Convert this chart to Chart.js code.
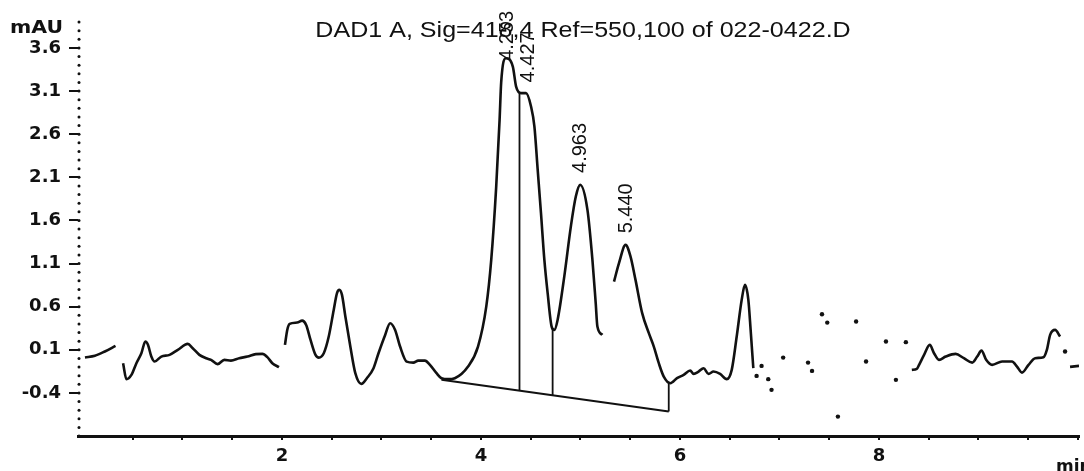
<!DOCTYPE html>
<html>
<head>
<meta charset="utf-8">
<script src="https://cdn.jsdelivr.net/npm/chart.js@4.4.1/dist/chart.umd.min.js"></script>
<style>
  html, body { margin: 0; padding: 0; background: #fff; }
  #wrap { width: 1084px; height: 471px; }
</style>
</head>
<body>
<div id="wrap"><canvas id="chrom" width="1084" height="471"></canvas></div>
<script>
// time (min) and signal (mAU), null = gap in the print
const traceTime = [
  0.02, 0.12, 0.22, 0.327, 0.36,
  0.403, 0.437, 0.487, 0.537, 0.587, 0.627, 0.653, 0.687, 0.72, 0.787, 0.87, 0.953,
  1.053, 1.103, 1.17, 1.237, 1.287, 1.353, 1.42, 1.487, 1.57, 1.653, 1.737, 1.803,
  1.853, 1.903, 1.97, 2.0,
  2.03, 2.053, 2.077, 2.153, 2.203, 2.243, 2.287, 2.337, 2.37, 2.42, 2.47, 2.52,
  2.553, 2.577, 2.603, 2.637, 2.687, 2.737, 2.797, 2.853, 2.92, 2.97, 3.037, 3.087,
  3.137, 3.187, 3.253, 3.32, 3.37, 3.437, 3.487, 3.553, 3.603, 3.67, 3.737, 3.87,
  3.97, 4.053, 4.103, 4.153, 4.187, 4.203, 4.25, 4.32, 4.353, 4.403, 4.453, 4.503,
  4.537, 4.57, 4.603, 4.637, 4.67, 4.71, 4.737, 4.77, 4.837, 4.903, 4.953, 4.997,
  5.07, 5.12, 5.153, 5.17, 5.22, 5.28,
  5.337, 5.387, 5.453, 5.503, 5.553, 5.62, 5.687, 5.737, 5.787, 5.837, 5.903, 5.97,
  6.037, 6.103, 6.137, 6.187, 6.237, 6.287, 6.337, 6.403, 6.47, 6.52, 6.57, 6.62,
  6.653, 6.687, 6.71, 6.737, 7.5,
  8.33, 8.38, 8.403, 8.453, 8.51, 8.553, 8.603, 8.67, 8.77, 8.853, 8.937, 8.987,
  9.03, 9.077, 9.137, 9.237, 9.337, 9.387, 9.437, 9.503, 9.57, 9.653, 9.687, 9.72,
  9.77, 9.82, 9.9,
  9.92, 10.01
];
const traceSignal = [
  0.01, 0.03, 0.08, 0.145, null,
  -0.056, -0.241, -0.191, -0.056, 0.06, 0.195, 0.157, 0.021, -0.037, 0.021, 0.041, 0.099,
  0.168, 0.118, 0.041, 0.002, -0.017, -0.067, -0.017, -0.026, 0.002, 0.021, 0.049, 0.052,
  0.014, -0.056, -0.102, null,
  0.157, 0.33, 0.40, 0.415, 0.438, 0.388, 0.214, 0.041, 0.009, 0.06, 0.253, 0.562,
  0.756, 0.794, 0.736, 0.485, 0.137, -0.172, -0.296, -0.23, -0.114, 0.06, 0.272, 0.408,
  0.33, 0.137, -0.037, -0.049, -0.026, -0.026, -0.075, -0.172, -0.23, -0.241, -0.23, -0.095,
  0.137, 0.60, 1.142, 1.992, 2.765, 3.20, 3.48, 3.383, 3.151, 3.075, 3.075, 2.92,
  2.688, 2.186, 1.683, 1.142, 0.756, 0.369, 0.33, 0.446, 0.948, 1.528, 1.876, 2.012,
  1.722, 1.142, 0.64, 0.369, 0.272, null,
  0.89, 1.104, 1.316, 1.18, 0.91, 0.524, 0.292, 0.137, -0.056, -0.211, -0.288, -0.23,
  -0.191, -0.141, -0.18, -0.153, -0.114, -0.18, -0.153, -0.18, -0.241, -0.133, 0.253, 0.678,
  0.852, 0.678, 0.33, -0.114, null,
  -0.133, -0.122, -0.075, 0.041, 0.157, 0.06, -0.017, 0.021, 0.052, 0.002, -0.049, 0.021,
  0.09, -0.017, -0.075, -0.037, -0.037, -0.095, -0.165, -0.075, 0.002, 0.014, 0.099, 0.273,
  0.33, 0.253, null,
  -0.099, -0.087
];

// isolated specks where the plotter dropped out
const speckTime = [6.77, 6.82, 6.887, 6.92, 7.037, 7.287, 7.327, 7.427, 7.48, 7.587, 7.77, 7.87, 8.07, 8.17, 8.27, 9.87];
const speckSignal = [-0.203, -0.087, -0.241, -0.365, 0.009, -0.049, -0.145, 0.512, 0.415, -0.675, 0.427, -0.037, 0.195, -0.249, 0.188, 0.079];

// integration baseline and drop lines
const baseTime = [3.603, 5.887];
const baseSignal = [-0.249, -0.617];
const dropTime = [4.387, 4.387, 4.387, 4.72, 4.72, 4.72, 5.887, 5.887];
const dropSignal = [3.078, -0.375, null, 0.35, -0.429, null, -0.27, -0.617];

// peak annotations
const peakLabels = ["4.253", "4.427", "4.963", "5.440"];
const peakLabelTime = [4.27, 4.48, 5.0, 5.46];
const peakLabelSignal = [3.45, 3.20, 2.15, 1.45];

const yTickValues = [-0.4, 0.1, 0.6, 1.1, 1.6, 2.1, 2.6, 3.1, 3.6];
const xLabelValues = [2, 4, 6, 8];
const xLabelText = ["2", "4", "6", "8"];

const chartTitle = "DAD1 A, Sig=418,4 Ref=550,100 of 022-0422.D";

function toPoints(xs, ys) {
  return xs.map((x, i) => ({ x: x, y: ys[i] }));
}

// dotted y axis like the plotter output (a dot every 0.1 mAU)
const dottedAxis = {
  id: "dottedAxis",
  beforeDatasetsDraw(chart) {
    const ctx = chart.ctx;
    const ys = chart.scales.y;
    const x = chart.chartArea.left;
    ctx.save();
    ctx.fillStyle = "#111";
    for (let k = -9; k <= 39; k++) {
      const py = ys.getPixelForValue(k / 10);
      ctx.beginPath();
      ctx.arc(x + 1, py, 1.5, 0, Math.PI * 2);
      ctx.fill();
    }
    ctx.restore();
  }
};

const annotate = {
  id: "annotate",
  afterDatasetsDraw(chart) {
    const ctx = chart.ctx;
    const xs = chart.scales.x;
    const ys = chart.scales.y;

    ctx.save();
    ctx.fillStyle = "#111";

    // title, stretched a little like the scan
    ctx.font = "22px 'Liberation Sans', Arial, sans-serif";
    ctx.textBaseline = "alphabetic";
    ctx.textAlign = "center";
    ctx.save();
    ctx.translate(583, 37);
    ctx.scale(1.14, 1);
    ctx.fillText(chartTitle, 0, 0);
    ctx.restore();

    // rotated retention times
    ctx.font = "20px 'Liberation Sans', Arial, sans-serif";
    ctx.textAlign = "left";
    ctx.textBaseline = "middle";
    peakLabels.forEach((txt, i) => {
      const px = xs.getPixelForValue(peakLabelTime[i]);
      const py = ys.getPixelForValue(peakLabelSignal[i]);
      ctx.save();
      ctx.translate(px, py);
      ctx.rotate(-Math.PI / 2);
      ctx.fillText(txt, 0, 0);
      ctx.restore();
    });

    // unit labels
    ctx.font = "bold 17px 'DejaVu Sans', sans-serif";
    ctx.textAlign = "left";
    ctx.textBaseline = "alphabetic";
    ctx.save();
    ctx.translate(10, 33);
    ctx.scale(1.2, 1);
    ctx.fillText("mAU", 0, 0);
    ctx.restore();
    ctx.fillText("min", 1056, 472);

    ctx.restore();
  }
};

new Chart(document.getElementById("chrom"), {
  type: "line",
  data: {
    datasets: [
      {
        label: "DAD1 A",
        data: toPoints(traceTime, traceSignal),
        borderColor: "#111",
        borderWidth: 2.6,
        pointRadius: 0,
        cubicInterpolationMode: "monotone",
        spanGaps: false
      },
      {
        label: "specks",
        data: toPoints(speckTime, speckSignal),
        showLine: false,
        pointRadius: 2.2,
        pointBackgroundColor: "#111",
        pointBorderWidth: 0
      },
      {
        label: "baseline",
        data: toPoints(baseTime, baseSignal),
        borderColor: "#111",
        borderWidth: 2,
        pointRadius: 0
      },
      {
        label: "drops",
        data: toPoints(dropTime, dropSignal),
        borderColor: "#111",
        borderWidth: 1.8,
        pointRadius: 0,
        spanGaps: false
      }
    ]
  },
  options: {
    responsive: false,
    devicePixelRatio: 1,
    animation: false,
    layout: { padding: { top: 22, right: 0, left: 0, bottom: 0 } },
    plugins: {
      legend: { display: false },
      tooltip: { enabled: false },
      title: { display: false }
    },
    scales: {
      x: {
        type: "linear",
        min: -0.05,
        max: 10.01,
        afterBuildTicks: scale => {
          const t = [];
          for (let v = 0.5; v <= 10; v += 0.5) t.push({ value: v });
          scale.ticks = t;
        },
        afterFit: scale => { scale.height = 35; },
        border: { display: true, color: "#111", width: 3 },
        grid: { drawOnChartArea: false, tickLength: 4, color: "#111", lineWidth: 2 },
        ticks: {
          autoSkip: false,
          maxRotation: 0,
          padding: 6,
          color: "#111",
          font: { family: "'DejaVu Sans', sans-serif", size: 18, weight: "bold" },
          callback: value => {
            const i = xLabelValues.indexOf(value);
            return i >= 0 ? xLabelText[i] : "";
          }
        }
      },
      y: {
        type: "linear",
        min: -0.9,
        max: 3.9,
        afterBuildTicks: scale => {
          scale.ticks = yTickValues.map(v => ({ value: v }));
        },
        afterFit: scale => { scale.width = 78; },
        border: { display: false },
        grid: { drawOnChartArea: false, tickLength: 9, color: "#111", lineWidth: 2 },
        ticks: {
          padding: 8,
          color: "#111",
          font: { family: "'DejaVu Sans', sans-serif", size: 18, weight: "bold" },
          callback: value => value.toFixed(1)
        }
      }
    }
  },
  plugins: [dottedAxis, annotate]
});
</script>
</body>
</html>
